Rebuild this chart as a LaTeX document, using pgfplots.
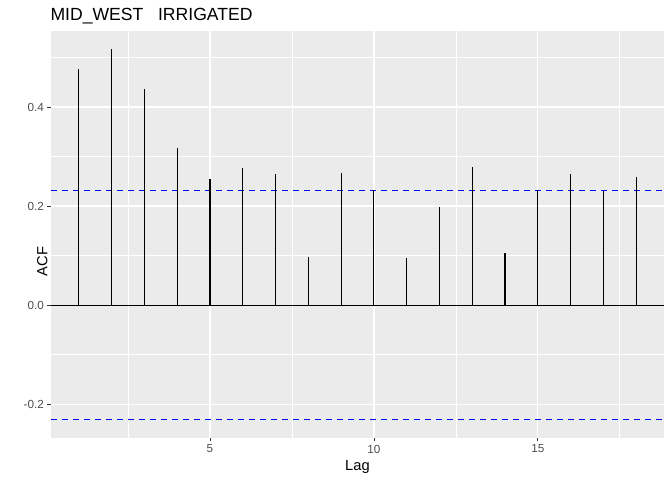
\documentclass[border=0pt]{standalone}
\usepackage{fontspec}
\setmainfont{Liberation Sans}
\usepackage{pgfplots}
\pgfplotsset{compat=1.18}
\definecolor{panelbg}{HTML}{EBEBEB}
\definecolor{tickgray}{HTML}{4D4D4D}
\definecolor{tickmark}{HTML}{333333}
\definecolor{acfblue}{RGB}{0,0,255}
\begin{document}
\begin{tikzpicture}
\path[use as bounding box] (0pt,0pt) rectangle (672pt,480pt);
\begin{axis}[
  at={(51pt,42.3pt)}, anchor=south west,
  scale only axis, width=613pt, height=406.7pt,
  xmin=0.15, xmax=18.85, ymin=-0.2676, ymax=0.5536,
  axis background/.style={fill=panelbg},
  axis line style={draw=none},
  tick pos=left, tick align=outside,
  major tick length=3.7pt, minor tick length=0pt,
  tick style={tickmark, line width=0.7pt},
  xtick={5,10,15}, xticklabels={5,10,15},
  ytick={-0.2,0,0.2,0.4}, yticklabels={-0.2,0.0,0.2,0.4},
  minor xtick={2.5,7.5,12.5,17.5},
  minor ytick={-0.1,0.1,0.3,0.5},
  grid=both,
  major grid style={white, line width=1.3pt},
  minor grid style={white, line width=0.6pt},
  /pgf/number format/assume math mode=true,
  ticklabel style={font=\fontsize{11.7}{13}\selectfont, text=tickgray},
  label style={font=\fontsize{14.7}{16}\selectfont},
  xlabel={Lag}, ylabel={ACF},
  xlabel style={at={(0.5,0)}, anchor=north, yshift=-19pt},
  ylabel style={at={(0,0.5)}, anchor=south, xshift=-27pt},
  title={MID\_WEST\ \ \ IRRIGATED},
  title style={at={(0,1)}, anchor=south west, font=\fontsize{17.6}{19}\selectfont, yshift=-3pt, xshift=-4pt},
  clip=false,
]
\addplot[acfblue, line width=1.2pt, dash pattern=on 6pt off 5pt] coordinates {
(0.15,0.2315) (18.85,0.2315)

(0.15,-0.2315) (18.85,-0.2315)};
\addplot[black, line width=1.07pt] coordinates {(0.15,0) (18.85,0)};
\addplot[ycomb, black, line width=1.07pt, mark=none] coordinates {
(1,0.477) (2,0.517) (3,0.436) (4,0.317) (5,0.255) (6,0.277) (7,0.265)
(8,0.097) (9,0.267) (10,0.232) (11,0.095) (12,0.198) (13,0.279)
(14,0.105) (15,0.232) (16,0.265) (17,0.230) (18,0.259)};
\end{axis}
\end{tikzpicture}
\end{document}
